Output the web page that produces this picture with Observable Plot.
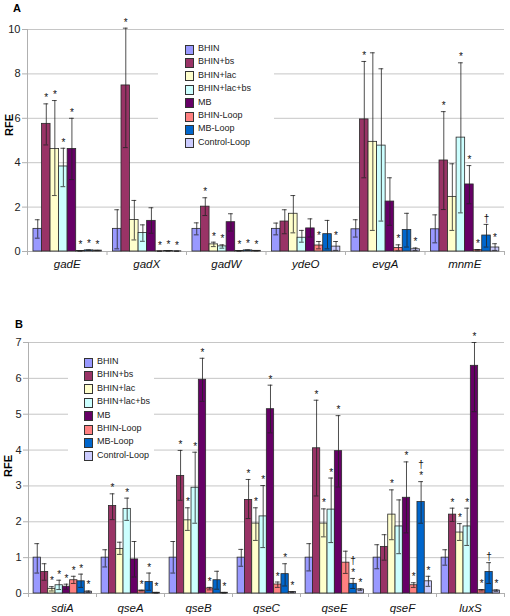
<!DOCTYPE html>
<html><head><meta charset="utf-8">
<script src="https://cdn.jsdelivr.net/npm/d3@7"></script>
<script src="https://cdn.jsdelivr.net/npm/@observablehq/plot@0.6"></script>
<style>
body{margin:0;background:#fff;font-family:"Liberation Sans",Arial,sans-serif;}
#wrap{position:relative;width:510px;height:616px;overflow:hidden;background:#fff;}
.panel{position:absolute;left:0;}
.plab{position:absolute;font-weight:bold;font-size:11px;line-height:1;}
.rfe{position:absolute;font-weight:bold;font-size:11px;line-height:1;transform:translate(-50%,-50%) rotate(-90deg);}
.legend{position:absolute;background:#fff;font-size:9px;}
.legend .sw{position:absolute;width:7px;height:8px;border:0.8px solid #333;}
.legend .tx{position:absolute;line-height:1;color:#222;}
</style>
</head><body>
<div id="wrap"></div>
<script>
const conditions = ["BHIN","BHIN+bs","BHIN+lac","BHIN+lac+bs","MB","BHIN-Loop","MB-Loop","Control-Loop"];
const colors = ["#9999FF","#993366","#FFFFCC","#CCFFFF","#660066","#FF8080","#0066CC","#CCCCFF"];

// Panel A
const genesA = ["gadE","gadX","gadW","ydeO","evgA","mnmE"];
const ticksA = [0,2,4,6,8,10];
const valA = [
  [1.02,5.75,4.62,3.83,4.62,0.02,0.05,0.04],
  [1.02,7.48,1.42,0.83,1.38,0.01,0.02,0.01],
  [1.02,2.02,0.32,0.23,1.32,0.02,0.05,0.03],
  [1.02,1.35,1.70,0.62,1.04,0.27,0.78,0.22],
  [1.00,5.95,4.94,4.77,2.25,0.16,0.97,0.10],
  [1.00,4.10,2.46,5.13,3.02,0.06,0.72,0.18]
];
const loA = [
  [0.60,4.80,2.52,2.92,3.24,0.02,0.05,0.04],
  [0.12,4.68,0.52,0.46,0.82,0.01,0.02,0.01],
  [0.75,1.62,0.22,0.15,0.92,0.02,0.05,0.03],
  [0.75,0.80,0.84,0.42,0.65,0.12,0.12,0.05],
  [0.65,3.32,0.95,1.37,1.18,0.03,0.20,0.04],
  [0.39,1.89,0.95,1.74,2.15,0.03,0.20,0.05]
];
const hiA = [
  [1.43,6.65,6.80,4.65,6.00,0.03,0.07,0.05],
  [1.88,10.06,2.30,1.20,1.97,0.02,0.03,0.02],
  [1.29,2.42,0.42,0.30,1.70,0.03,0.07,0.04],
  [1.28,1.88,2.52,0.95,1.47,0.45,1.40,0.45],
  [1.43,8.56,8.95,8.23,3.32,0.30,1.72,0.16],
  [1.65,6.30,3.95,8.50,3.87,0.09,1.22,0.35]
];
const sigA = [
  ["","*","*","*","*","*","*","*"],
  ["","*","","","","*","*","*"],
  ["","*","*","*","","*","*","*"],
  ["","","","","","*","","*"],
  ["","*","","","","*","","*"],
  ["","*","","*","*","*","†","*"]
];

// Panel B
const genesB = ["sdiA","qseA","qseB","qseC","qseE","qseF","luxS"];
const ticksB = [0,1,2,3,4,5,6,7];
const valB = [
  [1.00,0.60,0.13,0.23,0.19,0.37,0.34,0.05],
  [1.00,2.44,1.24,2.36,0.95,0.08,0.32,0.02],
  [1.00,3.28,2.04,2.95,5.96,0.14,0.37,0.02],
  [1.00,2.61,1.95,2.15,5.14,0.25,0.54,0.04],
  [1.00,4.05,1.95,2.34,3.97,0.86,0.27,0.11],
  [1.00,1.30,2.20,1.87,2.67,0.23,2.55,0.34],
  [1.00,2.20,1.70,1.87,6.35,0.09,0.60,0.08]
];
const loB = [
  [0.57,0.37,0.07,0.11,0.12,0.28,0.17,0.03],
  [0.74,2.06,1.09,2.04,0.46,0.07,0.09,0.01],
  [0.57,2.60,1.76,1.96,5.36,0.10,0.12,0.01],
  [0.76,2.09,1.48,1.28,4.48,0.17,0.21,0.03],
  [0.63,2.72,1.58,1.42,2.97,0.56,0.14,0.08],
  [0.69,0.93,1.50,1.11,1.69,0.17,1.96,0.20],
  [0.79,2.01,1.48,1.34,5.07,0.07,0.28,0.06]
];
const hiB = [
  [1.39,0.83,0.19,0.37,0.26,0.48,0.54,0.07],
  [1.22,2.78,1.43,2.66,1.45,0.09,0.57,0.03],
  [1.45,3.99,2.39,3.94,6.56,0.17,0.62,0.03],
  [1.23,3.18,2.39,3.01,5.81,0.32,0.83,0.05],
  [1.39,5.39,2.36,3.22,4.96,1.18,0.42,0.13],
  [1.36,1.64,2.89,2.61,3.67,0.30,3.12,0.48],
  [1.22,2.38,1.95,2.38,7.00,0.11,0.86,0.10]
];
const sigB = [
  ["","","*","*","*","*","*","*"],
  ["","*","","*","","*","*","*"],
  ["","*","*","*","*","*","","*"],
  ["","*","*","*","*","*","*","*"],
  ["","*","*","*","*","","†*","*"],
  ["","","*","","*","*","†*","*"],
  ["","*","*","*","*","*","†","*"]
];

function panel(genes, val, lo, hi, sig, ticks, o) {
  const rows = [];
  genes.forEach((g, gi) => conditions.forEach((c, ci) => rows.push({
    g, gi, c, ci, v: val[gi][ci], lo: lo[gi][ci], hi: hi[gi][ci], s: sig[gi][ci]
  })));
  const off = 0.075, w = 0.1075;
  const xl = d => d.gi + off + d.ci * w;
  const xr = d => d.gi + off + (d.ci + 1) * w;
  const xm = d => d.gi + off + (d.ci + 0.5) * w;
  const step = (510 - o.ml - o.mr) / genes.length;
  const cap = 2.4 / step;
  const ymax = ticks[ticks.length - 1];
  return Plot.plot({
    width: 510, height: o.h,
    marginTop: o.mt, marginBottom: o.mb, marginLeft: o.ml, marginRight: o.mr,
    style: {fontFamily: "'Liberation Sans', Arial, sans-serif", color: "#222", background: "white", overflow: "visible"},
    x: {domain: [0, genes.length], axis: null},
    y: {domain: [0, ymax], axis: null},
    color: {domain: conditions, range: colors},
    marks: [
      Plot.ruleY(ticks.filter(t => t > 0), {stroke: "#c6c6c6", strokeWidth: 1}),
      Plot.ruleX([0], {stroke: "#b0b0b0"}),
      Plot.ruleY([0], {stroke: "#b0b0b0"}),
      Plot.ruleX(d3.range(genes.length + 1), {y1: 0, y2: 0, insetBottom: -4, stroke: "#b0b0b0"}),
      Plot.axisY(ticks, {anchor: "left", tickSize: 5, tickPadding: 2, stroke: "#b0b0b0", fontSize: 11, label: null}),
      Plot.rectY(rows, {x1: xl, x2: xr, y1: 0, y2: "v", fill: "c", stroke: "#2a2a2a", strokeWidth: 0.8}),
      Plot.ruleX(rows, {x: xm, y1: "lo", y2: "hi", stroke: "#222", strokeWidth: 0.8}),
      Plot.ruleY(rows, {y: "hi", x1: d => xm(d) - cap, x2: d => xm(d) + cap, stroke: "#222", strokeWidth: 0.8}),
      Plot.ruleY(rows, {y: "lo", x1: d => xm(d) - cap, x2: d => xm(d) + cap, stroke: "#222", strokeWidth: 0.8}),
      Plot.text(rows.filter(d => d.s), {x: xm, y: "hi", text: d => d.s.split("").join("\n"),
        lineAnchor: "bottom", lineHeight: 1.15, dy: -2.5, fontSize: 10, fill: "#111"}),
      Plot.text(genes, {x: (d, i) => i + 0.5, y: 0, text: d => d, dy: o.ldy,
        fontStyle: "italic", fontSize: 11.5, fill: "#111"})
    ]
  });
}

const wrap = document.getElementById("wrap");
function place(el, top) { el.classList.add("panel"); el.style.top = top + "px"; wrap.appendChild(el); }

place(panel(genesA, valA, loA, hiA, sigA, ticksA, {h: 300, mt: 29, mb: 49, ml: 27, mr: 6, ldy: 13}), 0);
place(panel(genesB, valB, loB, hiB, sigB, ticksB, {h: 316, mt: 42, mb: 23, ml: 28, mr: 6, ldy: 14.5}), 300);

function label(text, left, top) {
  const d = document.createElement("div"); d.className = "plab"; d.textContent = text;
  d.style.left = left + "px"; d.style.top = top + "px"; wrap.appendChild(d);
}
label("A", 13, 3);
label("B", 15, 319);

function rfe(cx, cy) {
  const d = document.createElement("div"); d.className = "rfe"; d.textContent = "RFE";
  d.style.left = cx + "px"; d.style.top = cy + "px"; wrap.appendChild(d);
}
rfe(9, 125);
rfe(8, 466);

function legend(box, swx, txx, y0, dy) {
  const L = document.createElement("div"); L.className = "legend";
  Object.assign(L.style, {left: box[0] + "px", top: box[1] + "px", width: box[2] + "px", height: box[3] + "px"});
  conditions.forEach((c, i) => {
    const cy = y0 + i * dy - box[1];
    const s = document.createElement("div"); s.className = "sw";
    Object.assign(s.style, {left: (swx - box[0]) + "px", top: (cy - 4.5) + "px", background: colors[i]});
    const t = document.createElement("div"); t.className = "tx"; t.textContent = c;
    Object.assign(t.style, {left: (txx - box[0]) + "px", top: (cy - 5) + "px"});
    L.appendChild(s); L.appendChild(t);
  });
  wrap.appendChild(L);
}
legend([158, 31, 116, 128], 185, 198, 49, 13.4);
legend([68, 350, 86, 112], 84, 97, 362, 13.4);
</script>
</body></html>
